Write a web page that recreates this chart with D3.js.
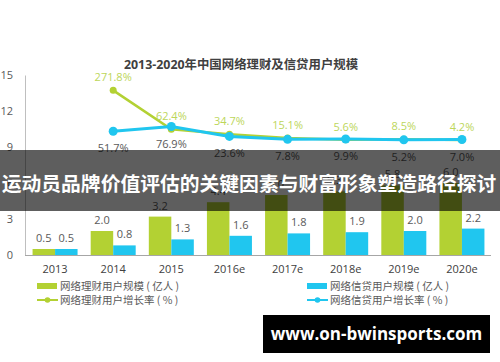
<!DOCTYPE html>
<html><head><meta charset="utf-8">
<script src="https://cdn.jsdelivr.net/npm/d3@7"></script>
<style>body{margin:0;background:#fff;}svg{display:block;font-family:"Open Sans","Noto Sans CJK SC",sans-serif;}</style>
</head><body>
<svg id="c" width="500" height="362"></svg>
<script>
const years = ["2013","2014","2015","2016e","2017e","2018e","2019e","2020e"];
const wealthUsers = [0.5,2.0,3.2,4.4,5.0,5.3,5.8,6.0];
const creditUsers = [0.5,0.8,1.3,1.6,1.8,1.9,2.0,2.2];
const wealthGrowth = [null,271.8,62.4,34.7,15.1,5.6,8.5,4.2];
const creditGrowth = [null,51.7,76.9,23.6,7.8,9.9,5.2,7.0];
const yTicks = [0,3,6,9,12,15];
const legendLabels = ["网络理财用户规模 ( 亿人 )","网络信贷用户规模 ( 亿人 )","网络理财用户增长率 ( % )","网络信贷用户增长率 ( % )"];
const titleText = "2013-2020年中国网络理财及信贷用户规模";
const bannerText = "运动员品牌价值评估的关键因素与财富形象塑造路径探讨";
const siteText = "www.on-bwinsports.com";

const green = "#b3d133", blue = "#20c6ef", greenText = "#bcd65a", gray = "#595959";
const svg = d3.select("#c");
const x = d3.scaleBand().domain(years).range([26,491]);
const y = d3.scaleLinear().domain([0,15]).range([255,75]);
const yp = d3.scaleLinear().domain([0,300]).range([140.8,85.1]);
const bw = 22.5;

// title
svg.append("text").attr("x",241).attr("y",68.5).attr("text-anchor","middle")
  .attr("font-size",12.4).attr("font-weight","bold").attr("fill","#404040").text(titleText);

// y axis
const ya = svg.append("g").attr("transform","translate(25,0)")
  .call(d3.axisLeft(y).tickValues(yTicks).tickSize(0).tickPadding(12));
ya.select(".domain").attr("stroke","#bfbfbf");
ya.selectAll("text").attr("font-size",11).attr("fill",gray).attr("font-family","'Open Sans',sans-serif");

// bars
const g = svg.append("g");
years.forEach((yr,i)=>{
  const cx = x(yr)+x.bandwidth()/2;
  g.append("rect").attr("x",cx-bw).attr("y",y(wealthUsers[i])).attr("width",bw).attr("height",y(0)-y(wealthUsers[i])).attr("fill",green);
  g.append("rect").attr("x",cx).attr("y",y(creditUsers[i])).attr("width",bw).attr("height",y(0)-y(creditUsers[i])).attr("fill",blue);
  g.append("text").attr("x",cx-bw/2).attr("y",y(wealthUsers[i])-7).attr("text-anchor","middle").attr("font-size",11).attr("fill",gray).text(wealthUsers[i].toFixed(1));
  g.append("text").attr("x",cx+bw/2).attr("y",y(creditUsers[i])-7).attr("text-anchor","middle").attr("font-size",11).attr("fill",gray).text(creditUsers[i].toFixed(1));
});

// x axis
const xa = svg.append("g").attr("transform","translate(0,255)")
  .call(d3.axisBottom(x).tickSize(0).tickPadding(10));
xa.select(".domain").attr("stroke","#a6a6a6").attr("d","M25,0.5H491");
xa.selectAll("text").attr("font-size",11).attr("fill","#404040").attr("font-family","'Open Sans',sans-serif");

// lines
const cxOf = yr => x(yr)+x.bandwidth()/2;
function drawLine(vals,color,w,r){
  const pts = years.map((yr,i)=>({yr,v:vals[i]})).filter(d=>d.v!==null);
  svg.append("path").datum(pts).attr("fill","none").attr("stroke",color).attr("stroke-width",w)
    .attr("d",d3.line().x(d=>cxOf(d.yr)).y(d=>yp(d.v)));
  svg.selectAll(null).data(pts).enter().append("circle").attr("cx",d=>cxOf(d.yr)).attr("cy",d=>yp(d.v)).attr("r",r).attr("fill",color);
  return pts;
}
const gp = drawLine(wealthGrowth,green,2.5,3.5);
const cp = drawLine(creditGrowth,blue,3,4.5);
svg.selectAll(null).data(gp).enter().append("text").attr("x",d=>cxOf(d.yr)).attr("y",d=>yp(d.v)-9)
  .attr("text-anchor","middle").attr("font-size",11).attr("fill",greenText).text(d=>d.v.toFixed(1)+"%");
svg.selectAll(null).data(cp).enter().append("text").attr("x",d=>cxOf(d.yr)).attr("y",d=>yp(d.v)+21)
  .attr("text-anchor","middle").attr("font-size",11).attr("fill",gray).text(d=>d.v.toFixed(1)+"%");

// legend
const lg = svg.append("g").attr("font-size",10.5).attr("fill",gray);
[[37,286,green,false],[307,286,blue,false],[37,300,green,true],[307,300,blue,true]].forEach((L,i)=>{
  const [lx,ly,c,isLine] = L;
  if(!isLine){ lg.append("rect").attr("x",lx).attr("y",ly-3).attr("width",20).attr("height",6).attr("fill",c); }
  else { lg.append("line").attr("x1",lx).attr("x2",lx+21).attr("y1",ly).attr("y2",ly).attr("stroke",c).attr("stroke-width",2);
         lg.append("circle").attr("cx",lx+10.5).attr("cy",ly).attr("r",2.8).attr("fill",c); }
  lg.append("text").attr("x",lx+23).attr("y",ly+4).attr("fill",gray).attr("font-family","'Noto Sans CJK SC',sans-serif").text(legendLabels[i]);
});

// banner overlay
svg.append("rect").attr("x",0).attr("y",150).attr("width",500).attr("height",61).attr("fill","rgba(0,0,0,0.63)");
svg.append("text").attr("x",249).attr("y",191).attr("text-anchor","middle").attr("font-size",19.8).attr("font-weight","bold")
  .attr("fill","#fff").attr("font-family","'Noto Sans CJK SC',sans-serif").text(bannerText);

// site label
svg.append("rect").attr("x",263).attr("y",315).attr("width",227).attr("height",38).attr("fill","#000");
svg.append("text").attr("x",376.5).attr("y",340).attr("text-anchor","middle").attr("font-size",17).attr("font-weight","bold")
  .attr("fill","#fff").attr("font-family","'Open Sans',sans-serif").text(siteText);
</script>
</body></html>
